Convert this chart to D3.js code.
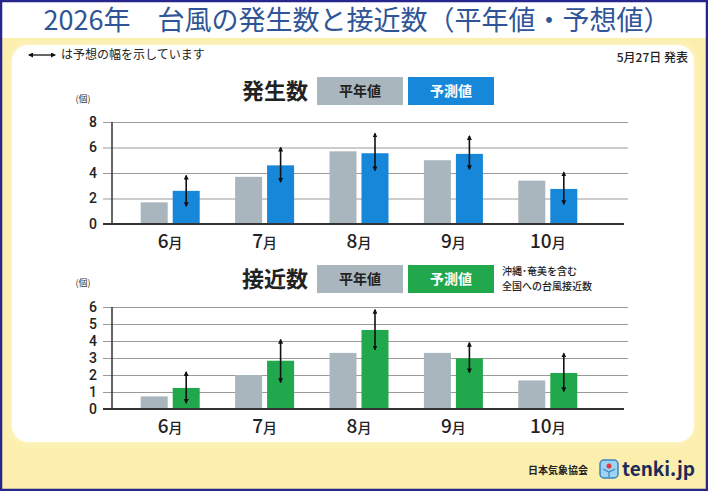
<!DOCTYPE html>
<html>
<head>
<meta charset="utf-8">
<script src="https://cdn.jsdelivr.net/npm/d3@7"></script>
<style>
  body { margin: 0; background: #fff; }
  svg { display: block; font-family: "Noto Sans CJK JP", "Noto Sans", sans-serif; }
</style>
</head>
<body>
<svg id="vis" width="708" height="491"></svg>
<script>
// months (label is number + 月)
const months = ["6", "7", "8", "9", "10"];

// 発生数 (typhoon formation)
const genNormal   = [1.7, 3.7, 5.7, 5.0, 3.4];
const genForecast = [2.6, 4.6, 5.55, 5.5, 2.75];
const genLow      = [1.4, 3.3, 4.2, 4.3, 1.55];
const genHigh     = [3.8, 6.0, 7.1, 6.9, 4.05];
const genTicks    = [0, 2, 4, 6, 8];

// 接近数 (typhoon approach)
const appNormal   = [0.74, 2.0, 3.3, 3.3, 1.68];
const appForecast = [1.24, 2.84, 4.65, 2.98, 2.12];
const appLow      = [0.35, 1.57, 3.5, 2.15, 1.04];
const appHigh     = [2.18, 4.08, 5.84, 3.9, 3.27];
const appTicks    = [0, 1, 2, 3, 4, 5, 6];

const grayColor = "#aab6be";
const blueColor = "#1787d9";
const greenColor = "#22a84c";

var svg = d3.select("#vis");

// background, title band and outer frame
svg.append("rect").attr("x", 0).attr("y", 38).attr("width", 708).attr("height", 453).attr("fill", "#fcefad");
svg.append("rect").attr("x", 0).attr("y", 0).attr("width", 708).attr("height", 38).attr("fill", "#fff");
svg.append("rect")
    .attr("x", 12).attr("y", 45).attr("width", 682).attr("height", 397)
    .attr("rx", 16).attr("fill", "#fff")
    .style("filter", "drop-shadow(0 0 4px #fff6d2)");
svg.append("rect")
    .attr("x", 1).attr("y", 1).attr("width", 706).attr("height", 489)
    .attr("fill", "none").attr("stroke", "#26268c").attr("stroke-width", 2.5);

svg.append("text")
    .attr("x", 357).attr("y", 30)
    .attr("text-anchor", "middle")
    .style("font-size", "27px")
    .attr("fill", "#2f5597")
    .text("2026年\u3000台風の発生数と接近数（平年値・予想値）");

// arrow heads
var defs = svg.append("defs");
defs.append("marker")
    .attr("id", "arr")
    .attr("viewBox", "0 0 10 10")
    .attr("refX", 8).attr("refY", 5)
    .attr("markerWidth", 5).attr("markerHeight", 5)
    .attr("markerUnits", "userSpaceOnUse")
    .attr("orient", "auto-start-reverse")
    .append("path").attr("d", "M0,0 L10,5 L0,10 z").attr("fill", "#111");

// note line
svg.append("line")
    .attr("x1", 29).attr("x2", 55).attr("y1", 55).attr("y2", 55)
    .attr("stroke", "#111").attr("stroke-width", 1.3)
    .attr("marker-start", "url(#arr)").attr("marker-end", "url(#arr)");
svg.append("text")
    .attr("x", 61).attr("y", 59)
    .style("font-size", "12px").attr("fill", "#222")
    .text("は予想の幅を示しています");
svg.append("text")
    .attr("x", 688).attr("y", 62)
    .attr("text-anchor", "end")
    .style("font-size", "12px").style("font-weight", 500).attr("fill", "#222")
    .text("5月27日 発表");

var x = d3.scaleBand().domain(months).range([123, 595]);
var inner = d3.scaleBand().domain(["normal", "forecast"]).range([-29.5, 29.5]).paddingInner(0.156);

function drawPanel(p) {
    var y = d3.scaleLinear().domain([0, p.ticks[p.ticks.length - 1]]).range([p.base, p.top]);
    var g = svg.append("g");

    // grid lines incl. tick marks
    g.append("g")
        .attr("transform", "translate(628,0)")
        .call(d3.axisLeft(y).tickValues(p.ticks.slice(1)).tickSize(525).tickFormat(""))
        .call(a => a.select(".domain").remove())
        .call(a => a.selectAll("line").attr("stroke", "#9a9a9a").attr("stroke-width", 1));

    // tick labels
    g.append("g")
        .attr("transform", "translate(112,0)")
        .call(d3.axisLeft(y).tickValues(p.ticks).tickFormat(d3.format("d")).tickSize(0).tickPadding(15))
        .call(a => a.select(".domain").remove())
        .call(a => a.selectAll("text")
            .style("font-size", "14px").style("font-weight", 500)
            .style("font-family", "Roboto, 'Noto Sans', sans-serif")
            .attr("fill", "#222"));

    // bars
    months.forEach(function (m, i) {
        var cx = x(m) + x.bandwidth() / 2;
        g.append("rect")
            .attr("x", cx + inner("normal")).attr("width", inner.bandwidth())
            .attr("y", y(p.normal[i])).attr("height", y(0) - y(p.normal[i]))
            .attr("fill", grayColor);
        g.append("rect")
            .attr("x", cx + inner("forecast")).attr("width", inner.bandwidth())
            .attr("y", y(p.forecast[i])).attr("height", y(0) - y(p.forecast[i]))
            .attr("fill", p.color);
        var ex = cx + inner("forecast") + inner.bandwidth() / 2;
        g.append("line")
            .attr("x1", ex).attr("x2", ex)
            .attr("y1", y(p.low[i])).attr("y2", y(p.high[i]))
            .attr("stroke", "#111").attr("stroke-width", 1.6)
            .attr("marker-start", "url(#arr)").attr("marker-end", "url(#arr)");

        var lab = g.append("text")
            .attr("x", cx).attr("y", p.base + 24)
            .attr("text-anchor", "middle")
            .attr("fill", "#222")
            .style("font-weight", 500);
        lab.append("tspan").style("font-size", "19px").text(m);
        lab.append("tspan").style("font-size", "14px").text("月");
    });

    // axes lines
    g.append("line")
        .attr("x1", 112).attr("x2", 112).attr("y1", y(0)).attr("y2", y(p.ticks[p.ticks.length - 1]))
        .attr("stroke", "#333").attr("stroke-width", 1.5);
    g.append("line")
        .attr("x1", 103).attr("x2", 624).attr("y1", y(0)).attr("y2", y(0))
        .attr("stroke", "#333").attr("stroke-width", 2);

    // unit
    g.append("text")
        .attr("x", 83).attr("y", p.unitY)
        .attr("text-anchor", "middle")
        .style("font-size", "9px").attr("fill", "#333")
        .text("(個)");

    // legend
    g.append("text")
        .attr("x", 242).attr("y", p.legY + 22)
        .style("font-size", "22px").style("font-weight", 700).attr("fill", "#222")
        .text(p.title);
    var items = [
        { label: "平年値", fill: grayColor, text: "#222", x: 317 },
        { label: "予測値", fill: p.color, text: "#fff", x: 408 }
    ];
    items.forEach(function (d) {
        g.append("rect")
            .attr("x", d.x).attr("y", p.legY).attr("width", 86).attr("height", 28)
            .attr("fill", d.fill);
        g.append("text")
            .attr("x", d.x + 43).attr("y", p.legY + 19)
            .attr("text-anchor", "middle")
            .style("font-size", "14px").style("font-weight", 700).attr("fill", d.text)
            .text(d.label);
    });
    if (p.note) {
        p.note.forEach(function (t, k) {
            g.append("text")
                .attr("x", 502).attr("y", p.legY + 10 + k * 15)
                .style("font-size", "10px").style("font-weight", 500).attr("fill", "#222")
                .text(t);
        });
    }
}

drawPanel({
    title: "発生数", base: 224, top: 122, ticks: genTicks,
    normal: genNormal, forecast: genForecast, low: genLow, high: genHigh,
    color: blueColor, legY: 77, unitY: 102
});
drawPanel({
    title: "接近数", base: 409, top: 307, ticks: appTicks,
    normal: appNormal, forecast: appForecast, low: appLow, high: appHigh,
    color: greenColor, legY: 265, unitY: 286,
    note: ["沖縄･奄美を含む", "全国への台風接近数"]
});

// footer
svg.append("text")
    .attr("x", 588).attr("y", 474)
    .attr("text-anchor", "end")
    .style("font-size", "10px").style("font-weight", 700).attr("fill", "#222")
    .text("日本気象協会");
var logo = svg.append("g").attr("transform", "translate(600,460)");
logo.append("rect").attr("width", 18).attr("height", 18).attr("rx", 4)
    .attr("fill", "#9fd3f2").attr("stroke", "#3b82c4").attr("stroke-width", 1.5);
logo.append("path").attr("d", "M3,9 L9,12 L15,9 M9,12 L9,17").attr("stroke", "#3b82c4").attr("fill", "none").attr("stroke-width", 1.2);
logo.append("circle").attr("cx", 9).attr("cy", 6).attr("r", 2.5).attr("fill", "#e03a3a");
svg.append("text")
    .attr("x", 622).attr("y", 476)
    .style("font-size", "19px").style("font-weight", 700).attr("fill", "#1d2b5a")
    .text("tenki.jp");
</script>
</body>
</html>
